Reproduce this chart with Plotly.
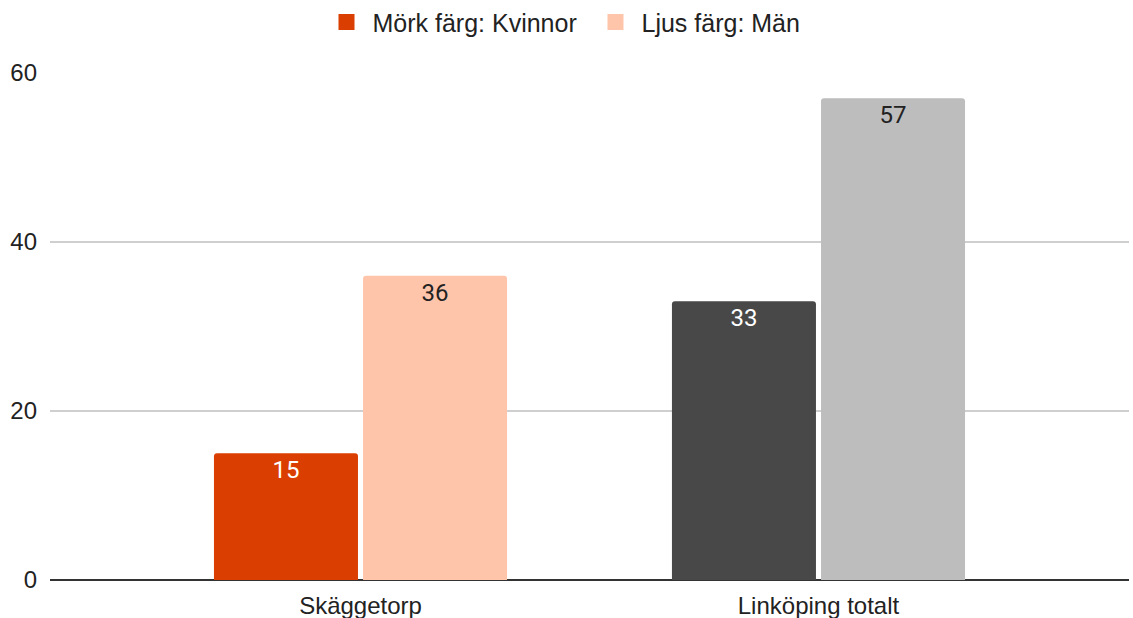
import plotly.graph_objects as go

# data
categories = ["Skäggetorp", "Linköping totalt"]
kvinnor = [15, 33]
man = [36, 57]
y_ticks = [0, 20, 40, 60]

# colours (dark = women, light = men; grey for the city total)
DARK = ["#DA3F01", "#484848"]
LIGHT = ["#FFC5AB", "#BDBDBD"]
GRID = "#CFCFCF"
AXIS_LINE = "#333333"
TEXT = "#222222"
FONT = "Liberation Sans, Arial, sans-serif"
LABEL_FONT = "Roboto, sans-serif"

fig = go.Figure()
fig.add_trace(go.Bar(
    name="Mörk färg: Kvinnor", showlegend=False,
    x=categories, y=kvinnor,
    marker=dict(color=DARK, cornerradius=3, line=dict(width=0)),
    text=kvinnor,
    textposition="inside", insidetextanchor="end",
    textfont=dict(family=LABEL_FONT, size=24, color=["#FFFFFF", "#FFFFFF"]),
    hovertemplate="%{x}: %{y}<extra>Kvinnor</extra>",
))
fig.add_trace(go.Bar(
    name="Ljus färg: Män", showlegend=False,
    x=categories, y=man,
    marker=dict(color=LIGHT, cornerradius=3, line=dict(width=0)),
    text=man,
    textposition="inside", insidetextanchor="end",
    textfont=dict(family=LABEL_FONT, size=24, color=["#222222", "#222222"]),
    hovertemplate="%{x}: %{y}<extra>Män</extra>",
))

# legend-only entries so the swatches can be drawn as bigger squares
for name, color in [("Mörk färg: Kvinnor", DARK[0]), ("Ljus färg: Män", LIGHT[0])]:
    fig.add_trace(go.Scatter(
        x=[None], y=[None], name=name, mode="markers",
        marker=dict(symbol="square", size=16, color=color),
        hoverinfo="skip",
    ))

fig.update_layout(
    width=1133, height=618,
    paper_bgcolor="white", plot_bgcolor="white",
    font=dict(family=FONT, size=24, color=TEXT),
    margin=dict(l=50, r=4, t=73, b=38, autoexpand=False),
    barmode="group",
    bargap=0.349, bargroupgap=0.034,
    legend=dict(
        orientation="h", x=0.5, xanchor="center", y=1.10, yanchor="middle",
        font=dict(family=FONT, size=25, color=TEXT),
        itemwidth=42, entrywidth=212,
        bgcolor="rgba(0,0,0,0)", itemclick=False,
    ),
    xaxis=dict(
        type="category", range=[-0.678, 1.678],
        showgrid=False, showline=False, zeroline=False,
        ticks="", tickfont=dict(family=FONT, size=24, color=TEXT),
        ticklabelstandoff=9, automargin=False,
    ),
    yaxis=dict(
        range=[0, 60], tickvals=y_ticks,
        showgrid=True, gridcolor=GRID, gridwidth=1.5,
        zeroline=True, zerolinecolor=AXIS_LINE, zerolinewidth=1.5,
        showline=False, ticks="",
        tickfont=dict(family=FONT, size=24, color=TEXT),
        ticklabelstandoff=12, automargin=False,
    ),
)

# drop the browser's default 8px body margin so the figure sits at 0,0
fig.write_html(
    "out.html",
    config={"displayModeBar": False},
    post_script="document.body.style.margin='0px';",
)
